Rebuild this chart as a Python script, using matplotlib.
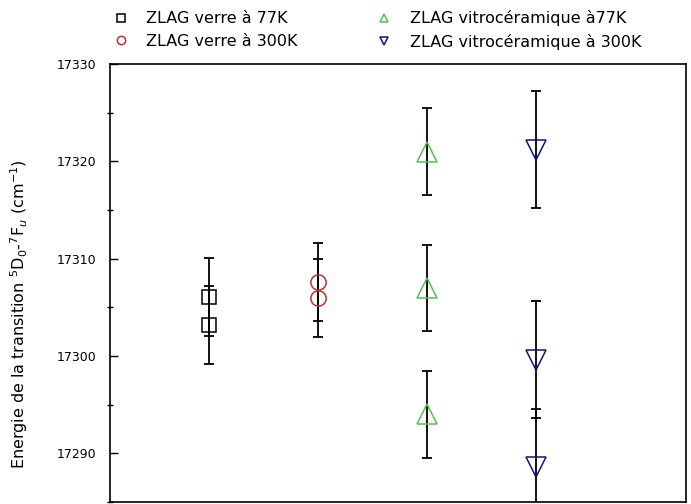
import numpy as np
import matplotlib
matplotlib.use('Agg')
import matplotlib.pyplot as plt
from matplotlib.ticker import MultipleLocator

plt.rcParams['font.family'] = ['DejaVu Sans']

# Transition energies (cm-1) and uncertainties for each sample
labels = ['ZLAG verre à 77K', 'ZLAG verre à 300K',
          'ZLAG vitrocéramique à77K', 'ZLAG vitrocéramique à 300K']
x_pos = [1, 2, 3, 4]
verre_77 = [17306.1, 17303.2]
verre_77_err = [4.0, 4.0]
verre_300 = [17307.6, 17306.0]
verre_300_err = [4.0, 4.0]
vitro_77 = [17321.0, 17307.0, 17294.0]
vitro_77_err = [4.5, 4.4, 4.5]
vitro_300 = [17321.2, 17299.6, 17288.6]
vitro_300_err = [6.0, 6.0, 6.0]

series = [
    (verre_77, verre_77_err, 's', 'black', 10),
    (verre_300, verre_300_err, 'o', '#c03030', 11),
    (vitro_77, vitro_77_err, '^', '#55c055', 14),
    (vitro_300, vitro_300_err, 'v', '#101080', 14),
]

fig = plt.figure(figsize=(6.91, 5.04), dpi=100)
ax = fig.add_axes([0.159, 0.004, 0.834, 0.869])

handles = []
for x, (vals, errs, mk, col, ms) in zip(x_pos, series):
    xs = np.full(len(vals), x)
    ax.errorbar(xs, vals, yerr=errs, fmt='none', ecolor='black',
                elinewidth=1.3, capsize=3.5, capthick=1.3, zorder=2)
    ax.plot(xs, vals, linestyle='none', marker=mk, markersize=ms,
            markerfacecolor='none', markeredgecolor=col,
            markeredgewidth=1.1, zorder=3)
    h, = ax.plot([], [], linestyle='none', marker=mk, markersize=6,
                 markerfacecolor='none', markeredgecolor=col,
                 markeredgewidth=1.1)
    handles.append(h)

ax.set_xlim(0.09, 5.38)
ax.set_ylim(17285, 17330)
ax.yaxis.set_major_locator(MultipleLocator(10))
ax.yaxis.set_minor_locator(MultipleLocator(5))
ax.tick_params(axis='y', which='major', direction='in', length=6,
               width=1, labelsize=9, pad=10)
ax.tick_params(axis='y', which='minor', direction='inout', length=5, width=1)
ax.tick_params(axis='x', bottom=False, labelbottom=False)
for sp in ax.spines.values():
    sp.set_linewidth(1.2)

ax.set_ylabel('Energie de la transition $^5$D$_0$-$^7$F$_u$ (cm$^{-1}$)',
              fontsize=11.5)
ax.yaxis.set_label_coords(-0.138, 0.43)

fig.legend(handles, labels, ncol=2, loc='upper left',
           bbox_to_anchor=(0.14, 1.008), frameon=False, fontsize=11.5,
           handletextpad=1.0, columnspacing=4.8, labelspacing=0.45,
           handlelength=1.2)

fig.savefig('out.png', dpi=100)
